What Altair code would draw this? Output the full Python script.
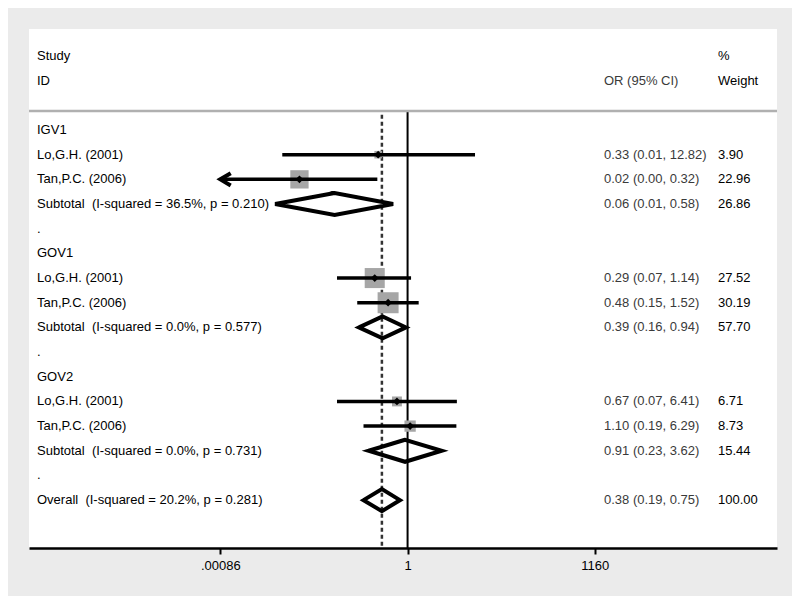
import altair as alt
import pandas as pd

# ---------------- data ----------------
row_labels = ["IGV1", "Lo,G.H. (2001)", "Tan,P.C. (2006)",
              "Subtotal \u00a0(I-squared = 36.5%, p = 0.210)", ".",
              "GOV1", "Lo,G.H. (2001)", "Tan,P.C. (2006)",
              "Subtotal \u00a0(I-squared = 0.0%, p = 0.577)", ".",
              "GOV2", "Lo,G.H. (2001)", "Tan,P.C. (2006)",
              "Subtotal \u00a0(I-squared = 0.0%, p = 0.731)", ".",
              "Overall \u00a0(I-squared = 20.2%, p = 0.281)"]
ci_labels = ["", "0.33 (0.01, 12.82)", "0.02 (0.00, 0.32)", "0.06 (0.01, 0.58)", "",
             "", "0.29 (0.07, 1.14)", "0.48 (0.15, 1.52)", "0.39 (0.16, 0.94)", "",
             "", "0.67 (0.07, 6.41)", "1.10 (0.19, 6.29)", "0.91 (0.23, 3.62)", "",
             "0.38 (0.19, 0.75)"]
wt_labels = ["", "3.90", "22.96", "26.86", "",
             "", "27.52", "30.19", "57.70", "",
             "", "6.71", "8.73", "15.44", "",
             "100.00"]

header_study = ["Study", "ID"]
header_ci = ["", "OR (95% CI)"]
header_wt = ["%", "Weight"]
header_rows = [-3, -2]

study_rows = [1, 2, 6, 7, 11, 12]
study_or = [0.33, 0.017, 0.29, 0.48, 0.67, 1.10]
study_lo = [0.0089, 0.00086, 0.07, 0.15, 0.07, 0.19]
study_hi = [12.7, 0.32, 1.14, 1.52, 6.41, 6.29]
study_wt = [3.90, 22.96, 27.52, 30.19, 6.71, 8.73]
arrow_rows = [2]
arrow_or = [0.00086]

pooled_rows = [3, 8, 13, 15]
pooled_or = [0.064, 0.39, 0.91, 0.38]
pooled_lo = [0.0068, 0.16, 0.23, 0.19]
pooled_hi = [0.58, 0.94, 3.62, 0.75]

tick_values = [0.00086, 1, 1160]
tick_labels = [".00086", "1", "1160"]

null_value = [1]
overall_value = [0.38]

# ---------------- tables ----------------
rows_df = pd.DataFrame({"row": list(range(len(row_labels))), "label": row_labels,
                        "ci": ci_labels, "wt": wt_labels})
head_df = pd.DataFrame({"row": header_rows, "study": header_study,
                        "ci": header_ci, "wt": header_wt})
study_df = pd.DataFrame({"row": study_rows, "or": study_or, "lo": study_lo,
                         "hi": study_hi, "w": study_wt})
arrow_df = pd.DataFrame({"row": arrow_rows, "or": arrow_or})

H = 0.446  # diamond half-height in row units
dia = []
for i, (r, e, lo, hi) in enumerate(zip(pooled_rows, pooled_or, pooled_lo, pooled_hi)):
    pts = [(lo, r), (e, r - H), (hi, r), (e, r + H), (lo, r), (e, r - H)]
    for k, (x, y) in enumerate(pts):
        dia.append({"id": i, "k": k, "or": x, "row": y})
dia_df = pd.DataFrame(dia)

TOP_ROW = -4.094
BOT_ROW = 16.94
line_df = pd.DataFrame({"or": null_value, "row": [-0.73], "row2": [BOT_ROW]})
dash_df = pd.DataFrame({"or": overall_value, "row": [-0.62], "row2": [BOT_ROW]})
hline_df = pd.DataFrame({"row": [-0.77]})

W, Hh = 748, 519
FONT = "Liberation Sans"
FS = 13

xscale = alt.Scale(type="log", domain=[6.37e-7, 1.112e6], nice=False, zero=False)
yscale = alt.Scale(domain=[TOP_ROW, BOT_ROW], reverse=True, nice=False, zero=False)
Y = alt.Y("row:Q", scale=yscale, axis=None)

label_expr = " : ".join(
    f"abs(datum.value - {v}) < {v * 0.01} ? '{t}'" for v, t in zip(tick_values, tick_labels)
) + " : ''"

xaxis = alt.Axis(values=tick_values, labelExpr=label_expr, title=None, grid=False,
                 domainColor="black", domainWidth=2.5, tickColor="black", tickWidth=2,
                 tickSize=6, labelFont=FONT, labelFontSize=FS, labelColor="black",
                 labelPadding=5)


def X(field):
    return alt.X(field, scale=xscale, axis=xaxis)


null_line = alt.Chart(line_df).mark_rule(color="black", strokeWidth=2).encode(
    x=X("or:Q"), y=Y, y2="row2:Q")
dash_line = alt.Chart(dash_df).mark_rule(color="#333333", strokeWidth=2.5,
                                         strokeDash=[4, 3]).encode(
    x=X("or:Q"), y=Y, y2="row2:Q")
hline = alt.Chart(hline_df).mark_rule(color="#b0b0b0", strokeWidth=2.5).encode(
    x=alt.value(0), x2=alt.value(W), y=Y)

squares = alt.Chart(study_df).transform_calculate(sz="datum.w * 14.6").mark_square(
    color="#a6a6a6", opacity=1).encode(
    x=X("or:Q"), y=Y, size=alt.Size("sz:Q", scale=None))
ci_lines = alt.Chart(study_df).mark_rule(color="black", strokeWidth=3.5).encode(
    x=X("lo:Q"), x2="hi:Q", y=Y)
markers = alt.Chart(study_df).mark_point(shape="diamond", filled=True, color="black",
                                         size=60, opacity=1).encode(
    x=X("or:Q"), y=Y)
arrows = alt.Chart(arrow_df).mark_point(shape="M2.2,-1.3L0,0L2.2,1.3", filled=False,
                                        color="black", strokeWidth=4, size=90,
                                        opacity=1).encode(
    x=X("or:Q"), y=Y)
diamonds = alt.Chart(dia_df).mark_line(color="black", strokeWidth=4,
                                       strokeJoin="miter").encode(
    x=X("or:Q"), y=Y, detail="id:N", order="k:Q")

txt = dict(font=FONT, fontSize=FS, align="left", baseline="middle")
study_txt = alt.Chart(rows_df).mark_text(color="black", **txt).encode(
    x=alt.value(8), y=Y, text="label:N")
ci_txt = alt.Chart(rows_df).mark_text(color="#3a3a3a", **txt).encode(
    x=alt.value(575), y=Y, text="ci:N")
wt_txt = alt.Chart(rows_df).mark_text(color="black", **txt).encode(
    x=alt.value(689), y=Y, text="wt:N")
h_study = alt.Chart(head_df).mark_text(color="black", **txt).encode(
    x=alt.value(8), y=Y, text="study:N")
h_ci = alt.Chart(head_df).mark_text(color="#3a3a3a", **txt).encode(
    x=alt.value(575), y=Y, text="ci:N")
h_wt = alt.Chart(head_df).mark_text(color="black", **txt).encode(
    x=alt.value(689), y=Y, text="wt:N")

chart = alt.layer(
    null_line, dash_line, hline, squares, ci_lines, markers, arrows, diamonds,
    study_txt, ci_txt, wt_txt, h_study, h_ci, h_wt
).properties(
    width=W, height=Hh, background="#ebebeb",
    padding={"left": 21, "top": 21, "right": 15, "bottom": 48},
    autosize=alt.AutoSizeParams(type="none"),
).configure_view(fill="white", strokeWidth=0)

chart.save("out.html", embed_options={"renderer": "svg", "actions": False})
